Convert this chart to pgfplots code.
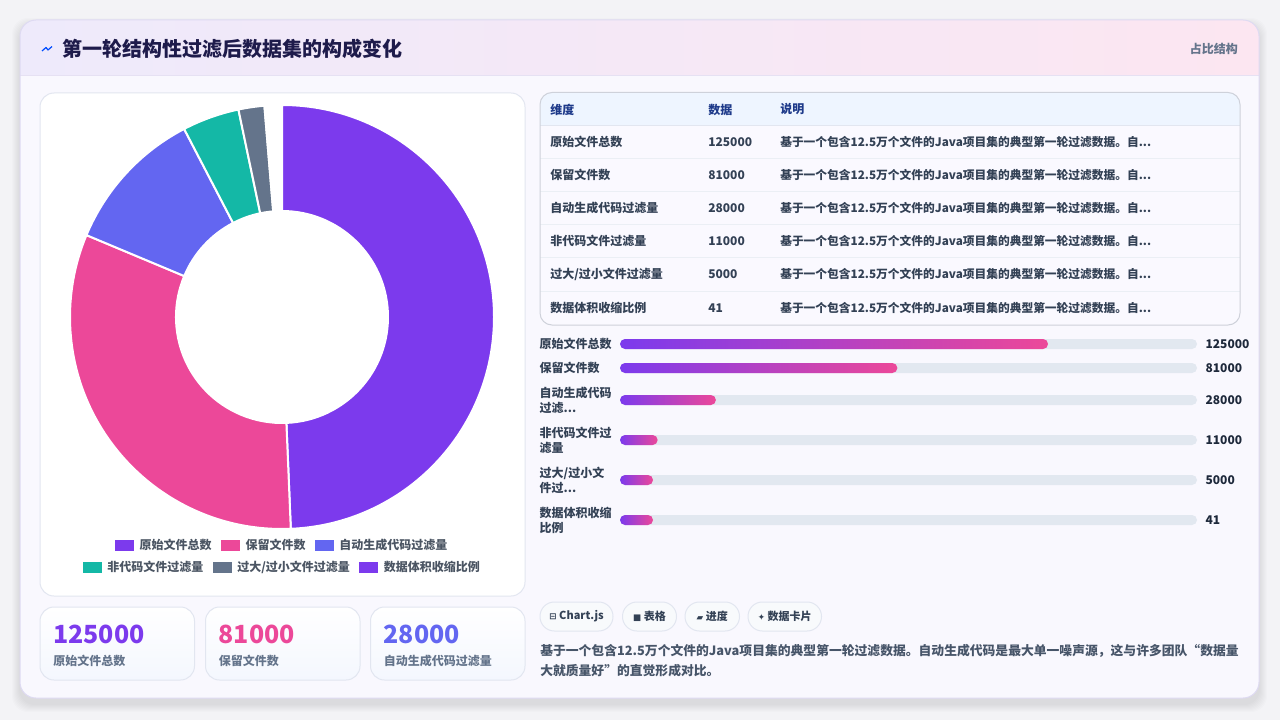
\documentclass[border=0pt]{standalone}
\usepackage{fontspec}
\setmainfont{Noto Sans CJK SC}
\newfontfamily\symfont{DejaVu Sans}
\usepackage{pgfplots}
\usepackage{pgfplotstable}
\pgfplotsset{compat=1.18}

\definecolor{pagebg}{HTML}{F3F3F6}
\definecolor{cardbg}{HTML}{F9F8FE}
\definecolor{cardline}{HTML}{DEDAF2}
\definecolor{hdrL}{HTML}{EEEAFB}
\definecolor{hdrR}{HTML}{FCE6F1}
\definecolor{hdrline}{HTML}{E6E1F3}
\definecolor{titlec}{HTML}{1E1B4B}
\definecolor{mutedc}{HTML}{64748B}
\definecolor{boxline}{HTML}{E2E6F0}
\definecolor{cPurple}{HTML}{7C3AED}
\definecolor{cPink}{HTML}{EC4899}
\definecolor{cIndigo}{HTML}{6366F1}
\definecolor{cTeal}{HTML}{14B8A6}
\definecolor{cSlate}{HTML}{64748B}
\definecolor{track}{HTML}{E2E8F0}
\definecolor{thbg}{HTML}{EEF5FF}
\definecolor{thtext}{HTML}{1E3A8A}
\definecolor{bodytext}{HTML}{334155}
\definecolor{darktext}{HTML}{1E293B}
\definecolor{paratext}{HTML}{475569}
\definecolor{legtext}{HTML}{4B5563}
\definecolor{pillbg}{HTML}{F8FAFC}
\definecolor{kpibg}{HTML}{F4F7FE}
\definecolor{rowbg}{HTML}{FAF9FF}

% donut data
\pgfplotstableread{
label value color
原始文件总数 125000 cPurple
保留文件数 81000 cPink
自动生成代码过滤量 28000 cIndigo
非代码文件过滤量 11000 cTeal
过大/过小文件过滤量 5000 cSlate
数据体积收缩比例 41 cPurple
}\piedata

% progress bars (pos = row centre in px)
\pgfplotstableread{
pos value track
344 125000 168500
368 81000 168500
400 28000 168500
440 11000 168500
480 5000 168500
520 41 168500
}\bardata

\def\pietotal{0}
\pgfplotstableforeachcolumnelement{value}\of\piedata\as\v{\xdef\pietotal{\fpeval{\pietotal+\v}}}
\def\angA{90}
\def\piesweep{355.3}% the reference leaves a small gap at the top

% #1 row
\newcommand\pieslice[1]{%
  \pgfplotstablegetelem{#1}{value}\of\piedata\edef\sv{\pgfplotsretval}%
  \pgfplotstablegetelem{#1}{color}\of\piedata\edef\sc{\pgfplotsretval}%
  \edef\angB{\fpeval{\angA-\piesweep*\sv/\pietotal}}%
  \edef\angBB{\fpeval{\angB+180}}%
  \edef\temp{\noexpand\filldraw[fill=\sc,draw=white,line width=1.5pt,line join=round]
    (axis cs:0,0) ++(\angA:159pt) arc[start angle=\angA,end angle=\angB,radius=159pt]
    -- ++(\angBB:79.5pt) arc[start angle=\angB,end angle=\angA,radius=79.5pt] -- cycle;}%
  \temp
  \global\let\angA\angB}

\tikzset{txt/.style={inner sep=0pt}}
\newcommand\fs[1]{\fontsize{#1}{#1}\selectfont}
\pgfplotsset{pielegend/.style={
  legend image code/.code={\fill[##1] (0pt,-3.75pt) rectangle (13.5pt,3.75pt);},
  legend style={anchor=center, draw=none, fill=none,
    legend columns=-1, font=\fs{9}\bfseries, text=legtext,
    nodes={inner sep=1pt},
    /tikz/every odd column/.append style={column sep=3.5pt},
    /tikz/every even column/.append style={column sep=6pt}}}}

\begin{document}
\begin{tikzpicture}
\clip (0pt,0pt) rectangle (960pt,-540pt);
\begin{scope}[x=0.75pt,y=-0.75pt]
\fill[pagebg] (0,0) rectangle (1280,720);
\foreach \i in {1,...,8}{\fill[black,opacity=0.01,rounded corners=12pt] (20-\i,26-\i) rectangle (1259+\i,704+\i);}
\fill[cardbg,rounded corners=12pt] (20,20) rectangle (1259,698);
\begin{scope}
  \clip[rounded corners=12pt] (20,20) rectangle (1259,698);
  \shade[left color=hdrL,right color=hdrR] (20,20) rectangle (1259,76);
  \draw[hdrline,line width=0.75pt] (20,76) -- (1259,76);
\end{scope}
\draw[cardline,line width=0.75pt,rounded corners=12pt] (20,20) rectangle (1259,698);

% header
\draw[blue!70!cyan,line width=0.9pt,line join=round] (42,51) -- (46,47.5) -- (48,50) -- (52,46.5);
\node[txt,anchor=west,text=titlec] at (62,48.5) {\fs{15}\bfseries 第一轮结构性过滤后数据集的构成变化};
\node[txt,anchor=east,text=mutedc] at (1238,48.5) {\fs{9}\bfseries 占比结构};

% donut card
\filldraw[fill=white,draw=boxline,line width=0.75pt,rounded corners=10.5pt] (40,93) rectangle (525,596);

% kpi cards
\foreach \x/\v/\l/\c in {40/125000/原始文件总数/cPurple,205.5/81000/保留文件数/cPink,370.5/28000/自动生成代码过滤量/cIndigo}{
  \shade[top color=white,bottom color=kpibg,rounded corners=10.5pt] (\x,607) rectangle (\x+154.5,680);
  \draw[boxline,line width=0.75pt,rounded corners=10.5pt] (\x,607) rectangle (\x+154.5,680);
  \node[txt,anchor=west,text=\c] at (\x+13,634) {\fs{18.75}\bfseries \v};
  \node[txt,anchor=west,text=mutedc] at (\x+13,661) {\fs{9}\bfseries \l};
}

% table
\begin{scope}
  \clip[rounded corners=9pt] (540,92.5) rectangle (1240,325);
  \fill[rowbg] (540,92.5) rectangle (1240,325);
  \fill[thbg] (540,92.5) rectangle (1240,125.5);
  \draw[boxline,line width=0.75pt] (540,125.5) -- (1240,125.5);
  \foreach \yy in {158.5,191.5,224.5,257.5,291}{\draw[track!70,line width=0.75pt] (540,\yy) -- (1240,\yy);}
\end{scope}
\draw[boxline!90!black!95,line width=0.75pt,rounded corners=9pt] (540,92.5) rectangle (1240,325);
\node[txt,anchor=west,text=thtext] at (550,109.5) {\fs{9}\bfseries 维度};
\node[txt,anchor=west,text=thtext] at (708,109.5) {\fs{9}\bfseries 数据};
\node[txt,anchor=west,text=thtext] at (780,109.5) {\fs{9}\bfseries 说明};
\foreach \yy/\l/\v in {142/原始文件总数/125000,175/保留文件数/81000,208/自动生成代码过滤量/28000,241/非代码文件过滤量/11000,274/{过大/过小文件过滤量}/5000,308/数据体积收缩比例/41}{
  \node[txt,anchor=west,text=bodytext] at (550,\yy) {\fs{9}\bfseries \l};
  \node[txt,anchor=west,text=bodytext] at (708,\yy) {\fs{9}\bfseries \v};
  \node[txt,anchor=west,text=bodytext] at (780,\yy) {\fs{8.8}\bfseries 基于一个包含12.5万个文件的Java项目集的典型第一轮过滤数据。自...};
}

% pills
\foreach \a/\b/\t in {540/613/{{\symfont\fs{6.5}⊟}\hspace{2pt}Chart.js},622.5/676.5/{{\symfont\fs{6.5}■}\hspace{2pt}表格},685/739.5/{{\symfont\fs{6.5}▰}\hspace{2pt}进度},748/821.5/{{\symfont\fs{6.5}✦}\hspace{2pt}数据卡片}}{
  \filldraw[fill=pillbg,draw=boxline,line width=0.75pt,rounded corners=10.8pt] (\a,602) rectangle (\b,631);
  \node[txt,text=bodytext] at ({(\a+\b)/2},616.5) {\fs{8.25}\bfseries \t};
}

% paragraph
\node[txt,anchor=west,text=paratext] at (540,651) {\fs{9.6}\bfseries 基于一个包含12.5万个文件的Java项目集的典型第一轮过滤数据。自动生成代码是最大单一噪声源，这与许多团队“数据量};
\node[txt,anchor=west,text=paratext] at (540,671) {\fs{9.6}\bfseries 大就质量好”的直觉形成对比。};
\end{scope}

% donut (centre at px 282,317)
\begin{axis}[
  at={(211.5pt,-237.75pt)}, anchor=origin,
  scale only axis, width=318pt, height=318pt,
  xmin=-1, xmax=1, ymin=-1, ymax=1,
  hide axis, clip=false, pielegend,
  legend style={at={(0.5,-0.0377)}},
]
\pieslice{0}
\pieslice{1}
\pieslice{2}
\pieslice{3}
\pieslice{4}
\pieslice{5}
\addlegendimage{cPurple}\addlegendentry{原始文件总数}
\addlegendimage{cPink}\addlegendentry{保留文件数}
\addlegendimage{cIndigo}\addlegendentry{自动生成代码过滤量}
\end{axis}
\begin{axis}[
  at={(211.5pt,-237.75pt)}, anchor=origin,
  scale only axis, width=318pt, height=318pt,
  xmin=-1, xmax=1, ymin=-1, ymax=1,
  hide axis, clip=false, pielegend,
  legend style={at={(0.5,-0.0896)}},
]
\addlegendimage{cTeal}\addlegendentry{非代码文件过滤量}
\addlegendimage{cSlate}\addlegendentry{过大/过小文件过滤量}
\addlegendimage{cPurple}\addlegendentry{数据体积收缩比例}
\end{axis}

% progress bars (top-left at px 620,330)
\begin{axis}[
  at={(465pt,-247.5pt)}, anchor=north west,
  scale only axis, width=432.75pt, height=153.75pt,
  xmin=0, xmax=168500, ymin=330, ymax=535, y dir=reverse,
  axis line style={draw=none}, tick style={draw=none},
  xtick=\empty, ytick=\empty,
  bar width=7.5pt, clip=false,
]
\addplot[xbar, bar shift=0pt, fill=track, draw=none, rounded corners=3.75pt]
  table[x=track, y=pos]{\bardata};
% one plot per bar so that each bar gets its own gradient;
% short bars are drawn with a minimum length, as in the reference
\pgfplotsinvokeforeach{0,...,5}{
  \addplot[xbar, bar shift=0pt, draw=none, left color=cPurple, right color=cPink,
    rounded corners=3.75pt, restrict expr to domain={\coordindex}{#1:#1}]
    table[x expr={max(\thisrow{value},9640)}, y=pos]{\bardata};
}
\addplot[draw=none, mark=none, nodes near coords, point meta=explicit symbolic,
  every node near coord/.append style={anchor=west, inner sep=0pt, xshift=6.25pt,
    font=\fs{9}\bfseries, text=darktext}]
  table[x=track, y=pos, meta=value]{\bardata};
\addplot[draw=none, mark=none, nodes near coords, point meta=explicit symbolic,
  every node near coord/.append style={anchor=east, inner sep=0pt, text width=60pt,
    align=left, font=\fontsize{9}{11.25}\selectfont\bfseries, text=bodytext}]
  coordinates {(0,344) [原始文件总数] (0,368) [保留文件数] (0,400) [{自动生成代码\\过滤...}]
    (0,440) [{非代码文件过\\滤量}] (0,480) [{过大/过小文\\件过...}] (0,520) [{数据体积收缩\\比例}]};
\end{axis}
\end{tikzpicture}
\end{document}
